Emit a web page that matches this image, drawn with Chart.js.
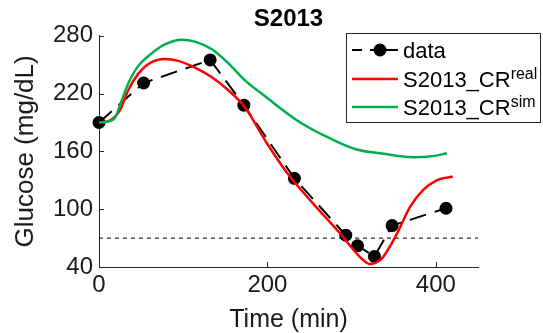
<!DOCTYPE html>
<html>
<head>
<meta charset="utf-8">
<script src="https://cdn.jsdelivr.net/npm/chart.js@4.4.0/dist/chart.umd.min.js"></script>
<style>
    html, body { margin: 0; padding: 0; background: #fff; }
    #caixa { width: 543px; height: 333px; }
</style>
</head>
<body>
<div id="caixa"><canvas id="glicose"></canvas></div>
<script>
// medidas do paciente
const tempoDados = [0, 53, 132, 172, 232, 293, 307, 327, 348, 412];
const glicoseDados = [190, 231, 255, 208, 132, 73, 62, 51, 83, 101];

// curva do modelo com CR real
const tempoReal = [0, 10, 19, 25, 35, 47, 61, 78, 94, 114, 134, 153, 173, 199, 223, 254, 286, 306, 314, 322, 330, 337, 354, 369, 385, 401, 420];
const glicoseReal = [190, 191, 196, 203, 224, 241, 252, 256, 254, 247, 237, 224, 206, 169, 138, 106, 75, 54, 47, 43, 45, 50, 75, 102, 120, 130, 134];

// curva do modelo com CR simulado
const tempoSim = [0, 10, 19, 27, 35, 46, 63, 78, 98, 114, 134, 153, 173, 199, 239, 278, 306, 334, 373, 395, 413];
const glicoseSim = [190, 191, 195, 213, 231, 248, 262, 271, 276, 274, 266, 252, 234, 216, 190, 172, 162, 158, 154, 155, 158];

const limiteHipo = 70;
const ticksX = [0, 200, 400];
const ticksY = [40, 100, 160, 220, 280];
const nomesLegenda = ['data', 'S2013_CR', 'S2013_CR'];
const sobrescritoLegenda = ['', 'real', 'sim'];

const fonte = '"Liberation Sans", Arial, Helvetica, sans-serif';
const corEixo = '#262626';

function pares(xs, ys) {
    var pts = [];
    for (i = 0; i < xs.length; i++) {
        pts.push({ x: xs[i], y: ys[i] });
    }
    return pts;
}

// tracinhos dos eixos para dentro
const ticksInternos = {
    id: 'ticksInternos',
    afterDraw(chart) {
        const ctx = chart.ctx;
        const area = chart.chartArea;
        const sx = chart.scales.x, sy = chart.scales.y;
        ctx.save();
        ctx.strokeStyle = corEixo;
        ctx.lineWidth = 1;
        ctx.beginPath();
        sx.ticks.forEach(t => {
            const px = Math.round(sx.getPixelForValue(t.value)) + 0.5;
            ctx.moveTo(px, area.bottom);
            ctx.lineTo(px, area.bottom - 5);
        });
        sy.ticks.forEach(t => {
            const py = Math.round(sy.getPixelForValue(t.value)) + 0.5;
            ctx.moveTo(area.left, py);
            ctx.lineTo(area.left + 5, py);
        });
        ctx.stroke();
        ctx.restore();
    }
};

// legenda com sobrescrito
const legenda = {
    id: 'legenda',
    afterDraw(chart) {
        const ctx = chart.ctx;
        const x0 = 346.5, y0 = 33.5, larg = 194, alt = 89;
        const linhas = [50, 79, 107];
        ctx.save();
        ctx.fillStyle = '#fff';
        ctx.fillRect(x0, y0, larg, alt);
        ctx.strokeStyle = corEixo;
        ctx.lineWidth = 1;
        ctx.strokeRect(x0, y0, larg, alt);

        const series = [0, 2, 3];
        for (let k = 0; k < series.length; k++) {
            const ds = chart.data.datasets[series[k]];
            const yl = linhas[k];
            ctx.strokeStyle = ds.borderColor;
            ctx.lineWidth = ds.borderWidth;
            ctx.setLineDash([]);
            ctx.beginPath();
            if (k == 0) {
                ctx.moveTo(352, yl); ctx.lineTo(362, yl);
                ctx.moveTo(370, yl); ctx.lineTo(398, yl);
                ctx.stroke();
                ctx.fillStyle = ds.pointBackgroundColor;
                ctx.beginPath();
                ctx.arc(380, yl, ds.pointRadius, 0, Math.PI * 2);
                ctx.fill();
            } else {
                ctx.moveTo(352, yl); ctx.lineTo(398, yl);
                ctx.stroke();
            }
            ctx.fillStyle = '#000';
            ctx.textBaseline = 'alphabetic';
            ctx.font = '22px ' + fonte;
            const base = yl + 8;
            ctx.fillText(nomesLegenda[k], 403, base);
            if (sobrescritoLegenda[k]) {
                const w = ctx.measureText(nomesLegenda[k]).width;
                ctx.font = '16px ' + fonte;
                ctx.fillText(sobrescritoLegenda[k], 403 + w, base - 8);
            }
        }
        ctx.restore();
    }
};

const dataGlicose = {
    datasets: [
        {
            label: nomesLegenda[0],
            data: pares(tempoDados, glicoseDados),
            borderColor: '#000',
            borderWidth: 2,
            borderDash: [17, 9],
            pointRadius: 6.5,
            pointBackgroundColor: '#000',
            pointBorderWidth: 0,
            tension: 0,
            clip: false,
            order: 4
        },
        {
            label: 'limite',
            data: [{ x: 0, y: limiteHipo }, { x: 450, y: limiteHipo }],
            borderColor: '#000',
            borderWidth: 1,
            borderDash: [4, 4],
            pointRadius: 0,
            order: 5
        },
        {
            label: nomesLegenda[1] + sobrescritoLegenda[1],
            data: pares(tempoReal, glicoseReal),
            borderColor: '#ff0000',
            borderWidth: 2.5,
            pointRadius: 0,
            cubicInterpolationMode: 'monotone',
            order: 2
        },
        {
            label: nomesLegenda[2] + sobrescritoLegenda[2],
            data: pares(tempoSim, glicoseSim),
            borderColor: '#00ae4d',
            borderWidth: 2.5,
            pointRadius: 0,
            cubicInterpolationMode: 'monotone',
            order: 1
        }
    ]
};

const configGlicose = {
    type: 'line',
    data: dataGlicose,
    options: {
        responsive: true,
        maintainAspectRatio: false,
        animation: false,
        layout: { padding: { left: 0, right: 65, top: 0, bottom: 0 } },
        plugins: {
            legend: { display: false },
            tooltip: { enabled: false },
            title: {
                display: true,
                text: 'S2013',
                color: '#000',
                fullSize: false,
                font: { family: fonte, size: 24, weight: 'bold' },
                padding: { top: 5, bottom: 2 }
            }
        },
        scales: {
            x: {
                type: 'linear',
                min: 0,
                max: 450,
                afterBuildTicks: s => { s.ticks = ticksX.map(v => ({ value: v })); },
                afterFit: s => { s.height = 66; },
                grid: { display: false, drawTicks: false },
                border: { display: true, color: corEixo, width: 1 },
                ticks: { color: '#1a1a1a', padding: 4, font: { family: fonte, size: 24 } },
                title: {
                    display: true,
                    text: 'Time (min)',
                    color: '#1a1a1a',
                    font: { family: fonte, size: 25, lineHeight: 1.0 },
                    padding: { top: 0, bottom: 0 }
                }
            },
            y: {
                min: 40,
                max: 280,
                afterBuildTicks: s => { s.ticks = ticksY.map(v => ({ value: v })); },
                afterFit: s => { s.width = 99; },
                grid: { display: false, drawTicks: false },
                border: { display: true, color: corEixo, width: 1 },
                ticks: { color: '#1a1a1a', padding: 6, font: { family: fonte, size: 24 } },
                title: {
                    display: true,
                    text: 'Glucose (mg/dL)',
                    color: '#1a1a1a',
                    font: { family: fonte, size: 26 },
                    padding: { top: 10, bottom: 0 }
                }
            }
        }
    },
    plugins: [ticksInternos, legenda]
};

window.graficoGlicose = new Chart(
    document.getElementById('glicose'),
    configGlicose
);
</script>
</body>
</html>
